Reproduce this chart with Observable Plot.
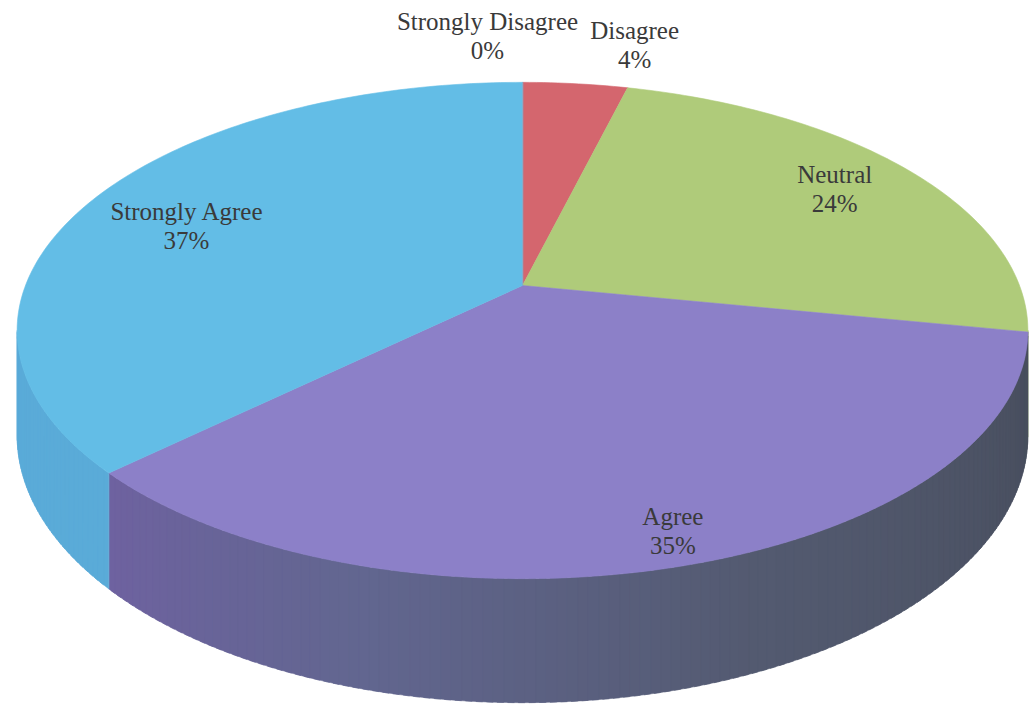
<!DOCTYPE html>
<html>
<head>
<meta charset="utf-8">
<script src="https://cdn.jsdelivr.net/npm/d3@7"></script>
<script src="https://cdn.jsdelivr.net/npm/@observablehq/plot@0.6"></script>
<style>
  html, body { margin: 0; padding: 0; background: #ffffff; }
  #chart { width: 1030px; height: 706px; overflow: hidden; }
  #chart svg text { font-family: "Liberation Serif", "Times New Roman", "DejaVu Serif", serif; }
</style>
</head>
<body>
<div id="chart"></div>
<script>
// ---- data ----
const categories = ["Strongly Disagree", "Disagree", "Neutral", "Agree", "Strongly Agree"];
const percents = [0, 4, 24, 35, 37];
const percentLabels = ["0%", "4%", "24%", "35%", "37%"];
const topColors = ["#D4666E", "#D4666E", "#AFCB7A", "#8C80C8", "#63BDE6"];
const sideColors = ["#B85560", "#B85560", "#95AE66", "#5A5E80", "#5AABD8"];

// ---- layout (3D perspective pie) ----
const W = 1030, Hgt = 706;
const CX = 522, CY = 285;      // pie apex
const R = 497, A = 240;        // horizontal / vertical radii
const E = 0.1814;              // perspective strength
const DEPTH = 101.5;           // side thickness
const rad = d => d * Math.PI / 180;

function project(deg, f = 1, down = 0) {
  const s = Math.sin(rad(deg)), c = Math.cos(rad(deg));
  const k = 1 / (1 + E * f * c);
  return [CX + f * R * s * k, CY - f * A * c * k + down * k];
}

// slice angles (clockwise from 12 o'clock)
const total = d3.sum(percents);
let acc = 0;
const slices = categories.map((name, i) => {
  const a0 = acc / total * 360;
  acc += percents[i];
  const a1 = acc / total * 360;
  return {name, i, a0, a1};
});

// top faces
const topPts = [];
for (const s of slices) {
  if (s.a1 - s.a0 <= 0) continue;
  const [ax, ay] = project(0, 0);
  topPts.push({slice: s.name, x: ax, y: ay, color: topColors[s.i]});
  const n = Math.max(2, Math.ceil(s.a1 - s.a0));
  for (let j = 0; j <= n; j++) {
    const t = s.a0 + (s.a1 - s.a0) * j / n;
    const [x, y] = project(t);
    topPts.push({slice: s.name, x, y, color: topColors[s.i]});
  }
}

// side faces (visible front rim)
const visL = 180 - Math.acos(E) * 180 / Math.PI; // ~100.45
const visR = 360 - visL;                          // ~259.55
const agreeShade = d3.scaleLinear()
  .domain([visL, 157, 196, 226.8])
  .range(["#474D5C", "#535A70", "#626690", "#6E62A0"])
  .interpolate(d3.interpolateRgb)
  .clamp(true);
const sidePts = [];
let sid = 0;
for (const s of slices) {
  const b0 = Math.max(s.a0, visL), b1 = Math.min(s.a1, visR);
  if (b1 <= b0) continue;
  const n = Math.max(1, Math.ceil((b1 - b0) / 1));
  for (let j = 0; j < n; j++) {
    const t0 = b0 + (b1 - b0) * j / n;
    const t1 = Math.min(b1, b0 + (b1 - b0) * (j + 1) / n + 0.6);
    const col = s.name === "Agree" ? agreeShade((t0 + t1) / 2) : sideColors[s.i];
    const id = "side" + (sid++);
    for (const [t, dn] of [[t0, 0], [t1, 0], [t1, DEPTH], [t0, DEPTH]]) {
      const [x, y] = project(t, 1, dn);
      sidePts.push({id, x, y, color: col});
    }
  }
}

// labels
const labelLayout = [
  {f: 1.286, dx: -35, dy: 0},
  {f: 1.264, dx: 48, dy: 4},
  {f: 0.802, dx: 0, dy: -2},
  {f: 0.902, dx: 2, dy: -2},
  {f: 0.778, dx: 0, dy: 10}
];
const labels = slices.map(s => {
  const mid = (s.a0 + s.a1) / 2;
  const L = labelLayout[s.i];
  const [x, y] = project(mid, L.f);
  return {x: x + L.dx, y: y + L.dy, text: s.name + "\n" + percentLabels[s.i]};
});

const chart = Plot.plot({
  width: W,
  height: Hgt,
  margin: 0,
  x: {domain: [0, W], range: [0, W], axis: null},
  y: {domain: [0, Hgt], range: [0, Hgt], axis: null},
  color: {type: "identity"},
  style: {background: "#ffffff", fontFamily: "'Liberation Serif', 'Times New Roman', serif"},
  marks: [
    Plot.line(sidePts, {x: "x", y: "y", z: "id", fill: "color", stroke: "color", strokeWidth: 0.5, curve: "linear-closed"}),
    Plot.line(topPts, {x: "x", y: "y", z: "slice", fill: "color", stroke: "color", strokeWidth: 0.6, curve: "linear-closed"}),
    Plot.text(labels, {x: "x", y: "y", text: "text", fontFamily: "Liberation Serif", fontSize: 25, lineHeight: 1.18, fill: "#3A3A3A", textAnchor: "middle"})
  ]
});
document.getElementById("chart").appendChild(chart);
</script>
</body>
</html>
